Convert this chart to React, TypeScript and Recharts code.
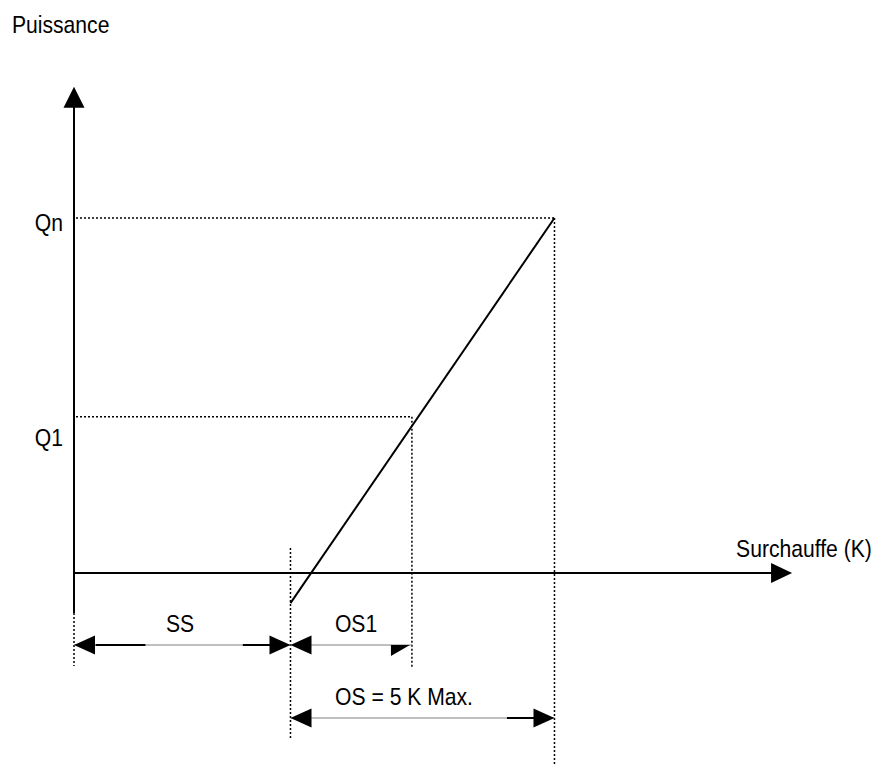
import { ComposedChart, Line, XAxis, YAxis, ReferenceLine, ReferenceDot } from "recharts";

// valeurs du schéma : surchauffe en K, puissance en % de Qn
const ss = 4.1; // surchauffe statique
const os1 = 2.3; // ouverture partielle
const osMax = 5; // OS = 5 K max
const qn = 100;
const q1 = 44;
const lineStart = -8.5; // départ de la caractéristique, sous l'axe
const xAxisEnd = 13.6;
const yAxisTop = 137;
const yAxisBottom = -11.3;

const characteristic = [
  { k: ss, p: lineStart },
  { k: ss + osMax, p: qn },
];

const powerTicks = [
  { name: "Qn", value: qn, dy: 13 },
  { name: "Q1", value: q1, dy: 29 },
];

const dimensions = [
  { label: "SS", from: 0, to: ss, row: 0, labelAt: 0.49, rightHead: "full", heavy: [[0.1, 0.33], [0.78, 0.91]] },
  { label: "OS1", from: ss, to: ss + os1, row: 0, labelAt: 0.54, rightHead: "half", heavy: [] },
  { label: "OS = 5 K Max.", from: ss, to: ss + osMax, row: 1, labelAt: 0.43, rightHead: "full", heavy: [[0.82, 0.925]] },
];

// mise en page (px)
const W = 880;
const H = 764;
const ORIGIN_X = 74;
const ORIGIN_Y = 573;
const PX_PER_K = 52.8;
const PX_PER_P = 3.55;
const FONT = "'Liberation Sans', Arial, sans-serif";
const FONT_SIZE = 24;
const SQUEEZE = 0.88; // police étroite
const ROW_OFFSETS = [72, 145];

const kDomain = [-ORIGIN_X / PX_PER_K, (W - ORIGIN_X) / PX_PER_K];
const pDomain = [-(H - ORIGIN_Y) / PX_PER_P, ORIGIN_Y / PX_PER_P];
const pxToP = (px: number) => -px / PX_PER_P;
const pxToK = (px: number) => px / PX_PER_K;

const dotted = { stroke: "#000", strokeWidth: 1.5, strokeDasharray: "2 2" };

type Dir = "up" | "left" | "right" | "half";

function arrowHead(dir: Dir, len: number, half: number) {
  return (props: any) => {
    const { cx, cy } = props;
    let pts = "";
    if (dir === "up") pts = `${cx},${cy} ${cx - half},${cy + len} ${cx + half},${cy + len}`;
    if (dir === "right") pts = `${cx},${cy} ${cx - len},${cy - half} ${cx - len},${cy + half}`;
    if (dir === "left") pts = `${cx},${cy} ${cx + len},${cy - half} ${cx + len},${cy + half}`;
    if (dir === "half") pts = `${cx},${cy} ${cx - len},${cy} ${cx - len},${cy + half}`;
    return <polygon points={pts} fill="#000" />;
  };
}

function textMark(value: string, anchor: "start" | "middle" | "end", dx = 0, dy = 0) {
  return (props: any) => (
    <text
      transform={`translate(${props.cx + dx},${props.cy + dy}) scale(${SQUEEZE},1)`}
      x={0}
      y={0}
      textAnchor={anchor}
      fontFamily={FONT}
      fontSize={FONT_SIZE}
      fill="#000"
    >
      {value}
    </text>
  );
}

export default function App() {
  const rowP = ROW_OFFSETS.map((o) => pxToP(o));

  return (
    <div style={{ position: "absolute", left: 0, top: 0, background: "#fff" }}>
      <ComposedChart width={W} height={H} data={characteristic} margin={{ top: 0, right: 0, bottom: 0, left: 0 }}>
        <XAxis dataKey="k" type="number" domain={kDomain} allowDataOverflow hide />
        <YAxis type="number" domain={pDomain} allowDataOverflow hide />

        {/* lignes de rappel pointillées */}
        {powerTicks.map((t) => (
          <ReferenceLine
            key={"h" + t.name}
            segment={[{ x: pxToK(2), y: t.value }, { x: t.value === qn ? ss + osMax : ss + os1, y: t.value }]}
            {...dotted}
            ifOverflow="visible"
          />
        ))}
        <ReferenceLine segment={[{ x: 0, y: 0 }, { x: 0, y: pxToP(93) }]} {...dotted} ifOverflow="visible" />
        <ReferenceLine segment={[{ x: ss, y: pxToP(-25) }, { x: ss, y: pxToP(167) }]} {...dotted} ifOverflow="visible" />
        <ReferenceLine segment={[{ x: ss + os1, y: q1 }, { x: ss + os1, y: pxToP(95) }]} {...dotted} ifOverflow="visible" />
        <ReferenceLine segment={[{ x: ss + osMax, y: qn }, { x: ss + osMax, y: pDomain[0] }]} {...dotted} ifOverflow="visible" />

        {/* axes */}
        <ReferenceLine
          segment={[{ x: 0, y: yAxisBottom }, { x: 0, y: yAxisTop - 20 / PX_PER_P }]}
          stroke="#000"
          strokeWidth={2}
          ifOverflow="visible"
        />
        <ReferenceLine
          segment={[{ x: 0, y: 0 }, { x: xAxisEnd - 20 / PX_PER_K, y: 0 }]}
          stroke="#000"
          strokeWidth={2}
          ifOverflow="visible"
        />
        <ReferenceDot x={0} y={yAxisTop} r={0} shape={arrowHead("up", 21, 10.5)} ifOverflow="visible" />
        <ReferenceDot x={xAxisEnd} y={0} r={0} shape={arrowHead("right", 21, 10)} ifOverflow="visible" />

        {/* cotes */}
        {dimensions.map((d) => {
          const y = rowP[d.row];
          const span = d.to - d.from;
          return [
            <ReferenceLine
              key={d.label + "l"}
              segment={[{ x: d.from, y }, { x: d.to, y }]}
              stroke="#808080"
              strokeWidth={1}
              ifOverflow="visible"
            />,
            ...d.heavy.map(([a, b], i) => (
              <ReferenceLine
                key={d.label + "h" + i}
                segment={[{ x: d.from + a * span, y }, { x: d.from + b * span, y }]}
                stroke="#000"
                strokeWidth={2}
                ifOverflow="visible"
              />
            )),
            <ReferenceDot key={d.label + "a"} x={d.from} y={y} r={0} shape={arrowHead("left", 21, 9.5)} ifOverflow="visible" />,
            <ReferenceDot
              key={d.label + "b"}
              x={d.rightHead === "half" ? d.to - pxToK(2) : d.to}
              y={y}
              r={0}
              shape={d.rightHead === "half" ? arrowHead("half", 19, 11) : arrowHead("right", 21, 9.5)}
              ifOverflow="visible"
            />,
            <ReferenceDot
              key={d.label + "t"}
              x={d.from + d.labelAt * span}
              y={y}
              r={0}
              shape={textMark(d.label, "middle", 0, -13)}
              ifOverflow="visible"
            />,
          ];
        })}

        {/* libellés */}
        {powerTicks.map((t) => (
          <ReferenceDot
            key={"t" + t.name}
            x={0}
            y={t.value}
            r={0}
            shape={textMark(t.name, "end", -11, t.dy)}
            ifOverflow="visible"
          />
        ))}
        <ReferenceDot x={0} y={yAxisTop} r={0} shape={textMark("Puissance", "start", -62, -54)} ifOverflow="visible" />
        <ReferenceDot x={xAxisEnd} y={0} r={0} shape={textMark("Surchauffe (K)", "start", -56, -16)} ifOverflow="visible" />

        <Line
          dataKey="p"
          type="linear"
          stroke="#000"
          strokeWidth={2}
          dot={false}
          activeDot={false}
          isAnimationActive={false}
        />
      </ComposedChart>
    </div>
  );
}
